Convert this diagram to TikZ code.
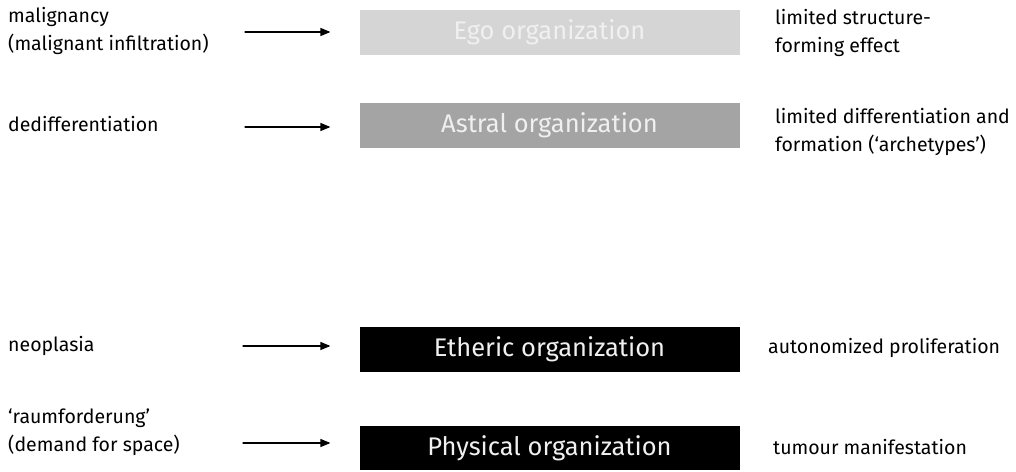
\documentclass[tikz,border=0pt]{standalone}
\usepackage{fontspec}
\setmainfont{Fira Sans}
\usetikzlibrary{arrows}
\definecolor{egogray}{HTML}{D6D5D6}
\definecolor{astralgray}{HTML}{A5A4A4}
\definecolor{labelwhite}{HTML}{F0F0F0}
\tikzset{
  orgbox/.style={rectangle,minimum width=380pt,minimum height=45pt,inner sep=0pt,text=labelwhite,font=\fontsize{25.5}{30}\selectfont},
  side/.style={anchor=west,align=left,inner sep=0pt,font=\fontsize{19.5}{27.5}\selectfont},
  arr/.style={->,line width=1.3pt,shorten >=29pt}
}
\begin{document}
\begin{tikzpicture}[line cap=round,line join=round,>=triangle 45,x=1pt,y=-1pt]
\useasboundingbox (0,0) rectangle (1016,471);
% the four organizations
\node[orgbox,fill=egogray] (ego) at (549.5,32.5) {Ego organization};
\node[orgbox,fill=astralgray] (astral) at (549.5,125.5) {Astral organization};
\node[orgbox,fill=black] (etheric) at (549.5,349.5) {Etheric organization};
\node[orgbox,fill=black,minimum height=44pt] (physical) at (549.5,448) {Physical organization};
% left column
\node[side] (malign) at (8,31) {malignancy\\(malignant infiltration)};
\node[side] (dediff) at (8,124) {dedifferentiation};
\node[side] (neopl) at (8,346) {neoplasia};
\node[side] (raum) at (8,432) {`raumforderung'\\(demand for space)};
% right column
\node[side] (struct) at (775,33) {limited structure-\\forming effect};
\node[side] (formation) at (775,132) {limited differentiation and\\formation (`archetypes')};
\node[side] (prolif) at (768,348) {autonomized proliferation};
\node[side] (tumour) at (773,447) {tumour manifestation};
% arrows
\coordinate (a1) at (245,32);
\coordinate (a2) at (245,127);
\coordinate (a3) at (243,346);
\coordinate (a4) at (243,443);
\draw[arr] (a1) -- (a1 -| ego.west);
\draw[arr] (a2) -- (a2 -| astral.west);
\draw[arr] (a3) -- (a3 -| etheric.west);
\draw[arr] (a4) -- (a4 -| physical.west);
\end{tikzpicture}
\end{document}
